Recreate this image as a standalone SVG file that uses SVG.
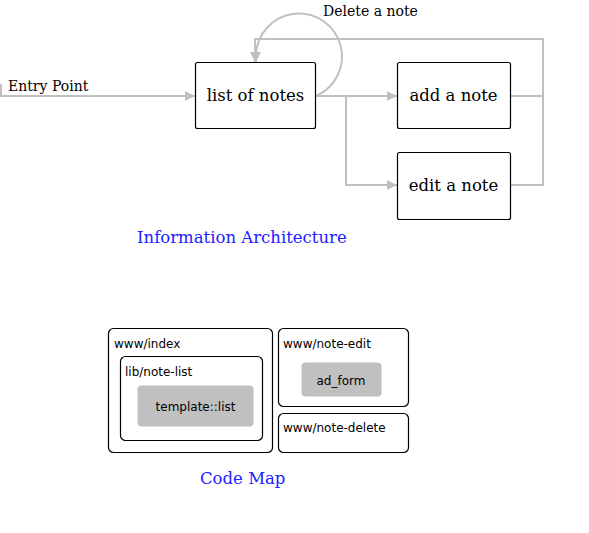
<svg xmlns="http://www.w3.org/2000/svg" width="589" height="533" viewBox="0 0 589 533">
<defs>
<style>
.box{fill:#fff;stroke:#000;stroke-width:1.2}
.ser{font-family:"DejaVu Serif","Liberation Serif",serif;fill:#000}
.san{font-family:"DejaVu Sans","Liberation Sans",sans-serif;fill:#000;font-size:12px}
.conn{fill:none;stroke:#c0c0c0;stroke-width:2}
.title{font-family:"DejaVu Serif","Liberation Serif",serif;fill:#2020ff;font-size:16.5px}
.gray{fill:#c0c0c0;stroke:none}
</style>
<marker id="arr" viewBox="0 0 10 10" refX="10" refY="5" markerWidth="10" markerHeight="10" markerUnits="userSpaceOnUse" orient="auto">
<path d="M0,0 L10,5 L0,10 z" fill="#c0c0c0"/>
</marker>
</defs>
<rect width="589" height="533" fill="#fff"/>
<g id="connectors">
<path class="conn" d="M1,84 V96 H195" marker-end="url(#arr)"/>
<path class="conn" d="M316,96 H397" marker-end="url(#arr)"/>
<path class="conn" d="M346,96 V185 H397" marker-end="url(#arr)"/>
<path class="conn" d="M511,96 H543 M511,185 H543 V39 H255 V62" marker-end="url(#arr)"/>
<path class="conn" d="M316,96 A43,43 0 1 0 256,55 V62" marker-end="url(#arr)"/>
<text class="ser" x="323" y="16" font-size="14">Delete a note</text>
<text class="ser" x="8" y="91" font-size="14">Entry Point</text>
</g>
<g id="list-of-notes">
<rect class="box" x="195.5" y="62.5" width="120" height="66" rx="2"/>
<text class="ser" x="255.5" y="101" font-size="16.5" text-anchor="middle">list of notes</text>
</g>
<g id="add-a-note">
<rect class="box" x="397.5" y="62.5" width="113" height="66" rx="2"/>
<text class="ser" x="453.5" y="101" font-size="16.5" text-anchor="middle">add a note</text>
</g>
<g id="edit-a-note">
<rect class="box" x="397.5" y="152.5" width="113" height="67" rx="2"/>
<text class="ser" x="453.5" y="191" font-size="16.5" text-anchor="middle">edit a note</text>
</g>
<text class="title" x="137" y="243">Information Architecture</text>
<g id="www-index">
<rect class="box" x="108.5" y="328.5" width="164" height="124" rx="5"/>
<text class="san" x="114" y="348">www/index</text>
</g>
<g id="lib-note-list">
<rect class="box" x="120.5" y="356.5" width="142" height="84" rx="5"/>
<text class="san" x="125" y="376">lib/note-list</text>
</g>
<g id="template-list">
<rect class="gray" x="137.5" y="385.5" width="116" height="41" rx="4"/>
<text class="san" x="195.5" y="411" font-size="12.5px" text-anchor="middle">template::list</text>
</g>
<g id="www-note-edit">
<rect class="box" x="278.5" y="328.5" width="130" height="78" rx="5"/>
<text class="san" x="283" y="348">www/note-edit</text>
</g>
<g id="ad-form">
<rect class="gray" x="301.5" y="362.5" width="80" height="34" rx="4"/>
<text class="san" x="341" y="385" font-size="13px" text-anchor="middle">ad_form</text>
</g>
<g id="www-note-delete">
<rect class="box" x="278.5" y="413.5" width="130" height="39" rx="5"/>
<text class="san" x="283" y="432">www/note-delete</text>
</g>
<text class="title" x="200" y="484">Code Map</text>
</svg>
